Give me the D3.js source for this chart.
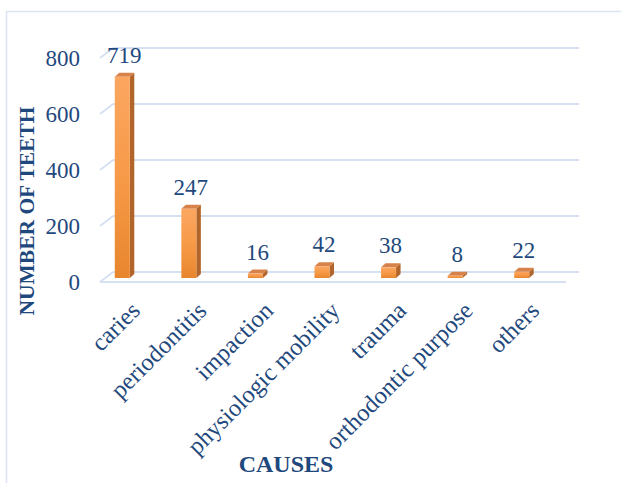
<!DOCTYPE html>
<html>
<head>
<meta charset="utf-8">
<script src="https://cdn.jsdelivr.net/npm/d3@7/dist/d3.min.js"></script>
<style>
  html, body { margin: 0; padding: 0; background: #ffffff; }
  svg { display: block; }
  text { font-family: "Liberation Serif", "Times New Roman", serif; fill: #1f497d; }
</style>
</head>
<body>
<svg id="chart" width="621" height="483"></svg>
<script>
// Causes of tooth extraction
const categories = ["caries", "periodontitis", "impaction", "physiologic mobility", "trauma", "orthodontic purpose", "others"];
const teeth = [719, 247, 16, 42, 38, 8, 22];
const yTicks = [0, 200, 400, 600, 800];
const yTitle = "NUMBER OF TEETH";
const xTitle = "CAUSES";

const svg = d3.select("#chart");
const W = 621, H = 483;

// 3-D look: the back wall sits up-right of the floor front edge
const wallDX = 13, wallDY = -10;   // front edge -> back wall
const barDX = 4.5, barDY = -4;     // bar depth

const x = d3.scaleBand().domain(categories).range([89, 555]);
const y = d3.scaleLinear().domain([0, 800]).range([278, 54]);
const barW = 15;

// chart frame
svg.append("rect")
  .attr("x", 6.5).attr("y", 11.5).attr("width", W + 10).attr("height", H + 10)
  .attr("fill", "none").attr("stroke", "#dae4f2").attr("stroke-width", 1.5);

const grid = svg.append("g");
const backLeft = 113, backRight = 579;
// back-wall gridlines and their side-wall diagonals
yTicks.forEach(t => {
  const yb = y(t) - 6;
  grid.append("line")
    .attr("x1", backLeft).attr("x2", backRight)
    .attr("y1", yb).attr("y2", yb)
    .attr("stroke", "#d5e0f1").attr("stroke-width", 2);
  grid.append("line")
    .attr("x1", backLeft - wallDX).attr("y1", yb - wallDY)
    .attr("x2", backLeft).attr("y2", yb)
    .attr("stroke", "#d5e0f1").attr("stroke-width", 2);
});
// floor front edge
grid.append("line")
  .attr("x1", backLeft - wallDX).attr("x2", backRight - wallDX)
  .attr("y1", y(0) + 4).attr("y2", y(0) + 4)
  .attr("stroke", "#d5e0f1").attr("stroke-width", 2);

// y tick labels
svg.append("g").selectAll("text").data(yTicks).join("text")
  .attr("x", 80).attr("y", d => y(d) + 4)
  .attr("dy", "0.35em")
  .attr("text-anchor", "end")
  .attr("font-size", 23)
  .text(d => d);

// bar gradient
const defs = svg.append("defs");
const g1 = defs.append("linearGradient").attr("id", "front")
  .attr("x1", 0).attr("y1", 0).attr("x2", 0).attr("y2", 1);
g1.append("stop").attr("offset", "0%").attr("stop-color", "#fba661");
g1.append("stop").attr("offset", "50%").attr("stop-color", "#f79a48");
g1.append("stop").attr("offset", "100%").attr("stop-color", "#e8862e");

const bars = svg.append("g").selectAll("g").data(categories).join("g");
bars.each(function(c, i) {
  const g = d3.select(this);
  const x0 = x(c) + x.bandwidth() / 2 - barW / 2;
  const x1 = x0 + barW;
  const yt = y(teeth[i]), yb = y(0);
  // side face
  g.append("path")
    .attr("d", `M${x1},${yt} L${x1 + barDX},${yt + barDY} L${x1 + barDX},${yb + barDY} L${x1},${yb} Z`)
    .attr("fill", "#b2652a");
  // top face
  g.append("path")
    .attr("d", `M${x0},${yt} L${x0 + barDX},${yt + barDY} L${x1 + barDX},${yt + barDY} L${x1},${yt} Z`)
    .attr("fill", "#d7824a");
  // front face
  g.append("rect")
    .attr("x", x0).attr("y", yt).attr("width", barW).attr("height", yb - yt)
    .attr("fill", "url(#front)");
});

// value labels
svg.append("g").selectAll("text").data(categories).join("text")
  .attr("x", c => x(c) + x.bandwidth() / 2 + 2)
  .attr("y", (c, i) => y(teeth[i]) - 14)
  .attr("text-anchor", "middle")
  .attr("font-size", 23)
  .text((c, i) => teeth[i]);

// category labels, rotated
svg.append("g").selectAll("text").data(categories).join("text")
  .attr("transform", c => `translate(${x(c) + x.bandwidth() / 2 + 7},${300}) rotate(-45)`)
  .attr("text-anchor", "end")
  .attr("dy", "0.7em")
  .attr("font-size", 24.5)
  .text(c => c);

// axis titles
svg.append("text")
  .attr("transform", `translate(34,211) rotate(-90)`)
  .attr("text-anchor", "middle")
  .attr("font-size", 21.5)
  .attr("font-weight", "bold")
  .text(yTitle);

svg.append("text")
  .attr("x", 286).attr("y", 472)
  .attr("text-anchor", "middle")
  .attr("font-size", 24)
  .attr("font-weight", "bold")
  .text(xTitle);
</script>
</body>
</html>
